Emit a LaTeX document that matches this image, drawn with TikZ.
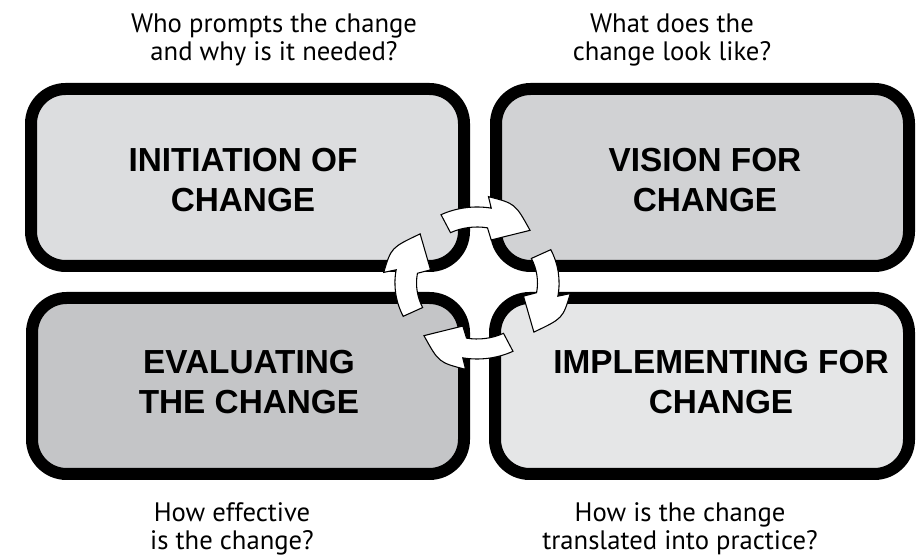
\documentclass[tikz,border=0pt]{standalone}
\usepackage{fontspec}
\setsansfont{Liberation Sans}
\newfontfamily\askfont{PT Sans}

\definecolor{initgray}{HTML}{DCDDDF}
\definecolor{visiongray}{HTML}{D1D2D4}
\definecolor{evalgray}{HTML}{C4C5C7}
\definecolor{implgray}{HTML}{E5E6E7}

\tikzset{
  stagebox/.style={line width=9pt, rounded corners=26pt},
  stagetext/.style={inner sep=0pt, align=center, font=\sffamily\bfseries\fontsize{25}{30}\selectfont},
  asktext/.style={inner sep=0pt, align=center, font=\askfont\fontsize{20}{21}\selectfont},
  cyclearrow/.style={draw=black, fill=white, line width=0.8pt, line join=miter}
}

\begin{document}
\begin{tikzpicture}[x=0.75pt, y=0.75pt]
    \useasboundingbox (0,0) rectangle (916,559);

    \draw[stagebox, fill=initgray] (31,293) rectangle (464,470);      % initiation
    \draw[stagebox, fill=visiongray] (496,293) rectangle (909,470);   % vision
    \draw[stagebox, fill=evalgray] (32,85) rectangle (464,261);       % evaluating
    \draw[stagebox, fill=implgray] (495,85) rectangle (909,261);      % implementing

    \node[stagetext] (init) at (243,379) {INITIATION OF\\CHANGE};
    \node[stagetext] (vision) at (705,379) {VISION FOR\\CHANGE};
    \node[stagetext] (eval) at (249,177) {EVALUATING\\THE CHANGE};
    \node[stagetext] (impl) at (721,177) {IMPLEMENTING FOR\\CHANGE};

    \node[asktext] (askinit) at (274,519) {Who prompts the change\\and why is it needed?};
    \node[asktext] (askvision) at (672,519) {What does the\\change look like?};
    \node[asktext] (askeval) at (232,30) {How effective\\is the change?};
    \node[asktext] (askimpl) at (680,30) {How is the change\\translated into practice?};

    % the four arrows of the cycle, clockwise
    \begin{scope}[shift={(477,276)}, xscale=1.08]
        \foreach \t/\b/\p in {116/80/47, 26/-10/-43, -64/-100/-133, -154/-190/-223}{
            \draw[cyclearrow] (\t:76) arc[start angle=\t, end angle=\b, radius=76]
                -- (\b+3:87) .. controls (\b-14:87) .. (\p:72)
                -- (\b-7:45) -- (\b:56)
                arc[start angle=\b, end angle=\t, radius=56] -- cycle;
        }
    \end{scope}
\end{tikzpicture}
\end{document}
